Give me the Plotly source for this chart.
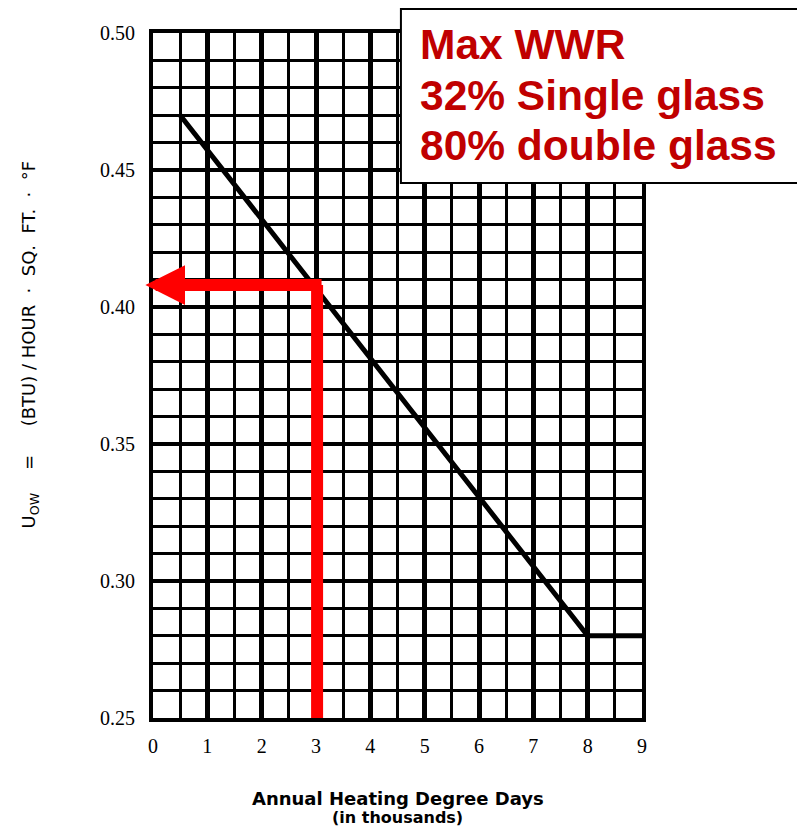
import plotly.graph_objects as go

# ---- data ----
curve_x = [0.5, 8.0, 9.0]            # thousands of heating degree days
curve_y = [0.47, 0.28, 0.28]         # Uow
x_ticks = [0, 1, 2, 3, 4, 5, 6, 7, 8, 9]
x_tick_labels = ["0", "1", "2", "3", "4", "5", "6", "7", "8", "9"]
y_ticks = [0.25, 0.30, 0.35, 0.40, 0.45, 0.50]
y_tick_labels = ["0.25", "0.30", "0.35", "0.40", "0.45", "0.50"]
read_x = [3.02, 3.02]               # red reading line (vertical)
read_y = [0.25, 0.408]
arrow_tip_x = -0.14                 # arrow to the y axis
arrow_y = 0.408
note_lines = ["Max WWR", "32% Single glass", "80% double glass"]

RED = "#FF0000"
NOTE_RED = "#C00000"

fig = go.Figure()
fig.add_trace(go.Scatter(x=curve_x, y=curve_y, mode="lines",
                         line=dict(color="black", width=5), showlegend=False,
                         hoverinfo="skip"))
fig.add_trace(go.Scatter(x=read_x, y=read_y, mode="lines",
                         line=dict(color=RED, width=12), showlegend=False,
                         hoverinfo="skip"))

# arrow pointing at the y axis
fig.add_annotation(x=arrow_tip_x, y=arrow_y, ax=read_x[-1] + 0.11, ay=arrow_y,
                   xref="x", yref="y", axref="x", ayref="y", text="",
                   showarrow=True, arrowhead=2, arrowsize=0.66, arrowwidth=12,
                   arrowcolor=RED)

# note box
fig.add_shape(type="rect", xref="paper", yref="paper",
              x0=0.507, x1=1.33, y0=0.781, y1=1.035,
              fillcolor="white", line=dict(color="black", width=2), layer="above")
for i, t in enumerate(note_lines):
    fig.add_annotation(text="<b>%s</b>" % t, xref="paper", yref="paper",
                       x=0.541, y=0.983 - (i * 50.5) / 685.0,
                       xanchor="left", yanchor="middle", showarrow=False,
                       font=dict(family="Liberation Sans, Arial", size=42.5, color=NOTE_RED))

# y-axis title
fig.add_annotation(text="U<sub>OW</sub>    =     (BTU) / HOUR  ·  SQ.  FT.  ·  °F",
                   xref="paper", yref="paper", x=-0.252, y=0.545,
                   textangle=-90, showarrow=False, xanchor="center", yanchor="middle",
                   font=dict(family="DejaVu Sans", size=18, color="black"))

# x-axis title
fig.add_annotation(text="<b>Annual Heating Degree Days</b>", xref="paper", yref="paper",
                   x=0.5, y=-0.117, showarrow=False, xanchor="center", yanchor="middle",
                   font=dict(family="DejaVu Sans", size=18, color="black"))
fig.add_annotation(text="<b>(in thousands)</b>", xref="paper", yref="paper",
                   x=0.5, y=-0.145, showarrow=False, xanchor="center", yanchor="middle",
                   font=dict(family="DejaVu Sans", size=16, color="black"))

fig.update_layout(
    width=805, height=836,
    margin=dict(l=145, r=171, t=25, b=126),
    paper_bgcolor="white", plot_bgcolor="white",
    font=dict(family="Liberation Serif, Times New Roman", size=20, color="black"),
)
fig.update_xaxes(range=[0, 9], tickvals=x_ticks, ticktext=x_tick_labels,
                 showgrid=True, gridcolor="black", gridwidth=5,
                 minor=dict(dtick=0.5, tick0=0, showgrid=True, gridcolor="black", gridwidth=3),
                 showline=True, mirror=True, linecolor="black", linewidth=4,
                 zeroline=False, ticks="", ticklabelstandoff=7,
                 tickfont=dict(family="Liberation Serif", size=20, color="black"))
fig.update_yaxes(range=[0.25, 0.50], tickvals=y_ticks, ticktext=y_tick_labels,
                 showgrid=True, gridcolor="black", gridwidth=3.5,
                 minor=dict(dtick=0.01, tick0=0.25, showgrid=True, gridcolor="black", gridwidth=3),
                 showline=True, mirror=True, linecolor="black", linewidth=4,
                 zeroline=False, ticks="", ticklabelstandoff=10,
                 tickfont=dict(family="Liberation Serif", size=20, color="black"))

fig.write_html("out.html")
